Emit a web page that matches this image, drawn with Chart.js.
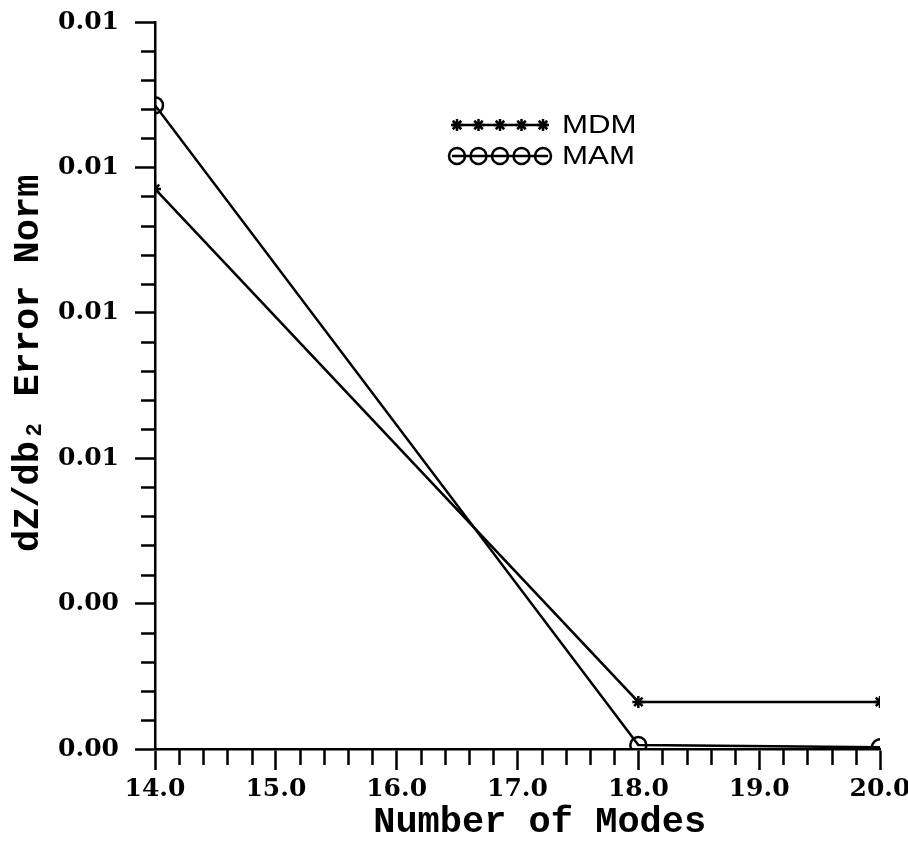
<!DOCTYPE html>
<html>
<head>
<meta charset="utf-8">
<script src="https://cdn.jsdelivr.net/npm/chart.js@4.4.0/dist/chart.umd.min.js"></script>
<style>
  html, body { margin: 0; padding: 0; background: #fff; }
  #wrap { width: 908px; height: 845px; position: relative; }
</style>
</head>
<body>
<div id="wrap"><canvas id="chart"></canvas></div>
<script>
// values
const modes = [14, 18, 20];
const mdmValues = [0.00963, 0.00081, 0.00081];
const mamValues = [0.01107, 0.00007, 0.00003];
const seriesNames = ['MDM', 'MAM'];

const yMajorStep = 0.0025;
const yMinorStep = 0.0005;
const xMajorStep = 1;
const xMinorStep = 0.2;

const tickFont = { family: '"DejaVu Serif"', weight: 'bold', size: 25 };
const titleFont = { family: '"Liberation Mono"', weight: 'bold', size: 37 };

// minor ticks are not something chart.js does, so draw them off the scales
const minorTicks = {
    id: 'minorTicks',
    afterDraw(chart) {
        const ctx = chart.ctx;
        const xs = chart.scales.x;
        const ys = chart.scales.y;
        ctx.save();
        ctx.strokeStyle = '#000';
        ctx.lineWidth = 2.5;
        ctx.beginPath();
        for (let v = ys.min; v <= ys.max + 1e-9; v += yMinorStep) {
            const r = v / yMajorStep;
            if (Math.abs(r - Math.round(r)) < 1e-6) continue;
            const py = Math.round(ys.getPixelForValue(v)) + 0.5;
            ctx.moveTo(ys.right - 14, py);
            ctx.lineTo(ys.right, py);
        }
        for (let v = xs.min; v <= xs.max + 1e-9; v += xMinorStep) {
            const r = v / xMajorStep;
            if (Math.abs(r - Math.round(r)) < 1e-6) continue;
            const px = Math.round(xs.getPixelForValue(v)) + 0.5;
            ctx.moveTo(px, xs.top);
            ctx.lineTo(px, xs.top + 16);
        }
        ctx.stroke();
        ctx.restore();
    }
};

// legend with a short line carrying five markers, like the original plot
const markerLegend = {
    id: 'markerLegend',
    afterDraw(chart, args, opts) {
        const ctx = chart.ctx;
        ctx.save();
        chart.data.datasets.forEach((ds, i) => {
            const y = opts.top + i * opts.rowGap;
            ctx.strokeStyle = '#000';
            ctx.lineWidth = 2.5;
            ctx.beginPath();
            ctx.moveTo(opts.left, y);
            ctx.lineTo(opts.left + opts.lineLength, y);
            ctx.stroke();
            ctx.fillStyle = 'rgba(0,0,0,0)';
            for (let k = 0; k < 5; k++) {
                const px = opts.left + 5 + k * (opts.lineLength - 10) / 4;
                Chart.helpers.drawPoint(ctx, {
                    pointStyle: ds.pointStyle,
                    radius: ds.pointRadius,
                    borderWidth: ds.pointBorderWidth
                }, px, y);
            }
            ctx.save();
            ctx.translate(opts.left + opts.lineLength + opts.textGap, y + 1);
            ctx.scale(opts.stretch, 1);
            ctx.fillStyle = '#000';
            ctx.font = opts.font;
            ctx.textBaseline = 'middle';
            ctx.fillText(ds.label, 0, 0);
            ctx.restore();
        });
        ctx.restore();
    }
};

const ctx = document.getElementById('chart');

new Chart(ctx, {
    type: 'line',
    data: {
        datasets: [
            {
                label: seriesNames[0],
                data: modes.map((m, i) => ({ x: m, y: mdmValues[i] })),
                borderColor: '#000',
                backgroundColor: '#000',
                borderWidth: 2.5,
                pointStyle: 'star',
                pointRadius: 6,
                pointBorderWidth: 2.5,
                pointBorderColor: '#000',
                fill: false,
            },
            {
                label: seriesNames[1],
                data: modes.map((m, i) => ({ x: m, y: mamValues[i] })),
                borderColor: '#000',
                backgroundColor: 'rgba(0,0,0,0)',
                borderWidth: 2.5,
                pointStyle: 'circle',
                pointRadius: 8,
                pointBorderWidth: 2.5,
                pointBorderColor: '#000',
                fill: false,
            }
        ]
    },
    options: {
        responsive: true,
        maintainAspectRatio: false,
        animation: false,
        layout: {
            padding: { top: 22, right: 0, left: 0, bottom: 0 }
        },
        scales: {
            x: {
                type: 'linear',
                min: 14,
                max: 20,
                border: { color: '#000', width: 2.5 },
                grid: {
                    drawOnChartArea: false,
                    drawTicks: true,
                    tickLength: 21,
                    tickWidth: 2.5,
                    tickColor: '#000'
                },
                ticks: {
                    stepSize: xMajorStep,
                    color: '#000',
                    font: tickFont,
                    padding: 4,
                    maxRotation: 0,
                    callback: v => Number(v).toFixed(1)
                },
                title: {
                    display: true,
                    text: '  Number of Modes',
                    color: '#000',
                    font: titleFont,
                    padding: { top: 0, bottom: 0 }
                },
                afterFit: scale => {
                    scale.height = 96;
                    scale.paddingLeft = 0;
                    scale.paddingRight = 28;
                }
            },
            y: {
                min: 0,
                max: 0.0125,
                border: { color: '#000', width: 2.5 },
                grid: {
                    drawOnChartArea: false,
                    drawTicks: true,
                    tickLength: 20,
                    tickWidth: 2.5,
                    tickColor: '#000'
                },
                ticks: {
                    stepSize: yMajorStep,
                    color: '#000',
                    font: tickFont,
                    padding: 16,
                    callback: v => Number(v).toFixed(2)
                },
                title: {
                    display: true,
                    text: '  dZ/db\u2082 Error Norm',
                    color: '#000',
                    font: titleFont,
                    padding: { top: 6, bottom: 0 }
                },
                afterFit: scale => {
                    scale.width = 155;
                    scale.paddingTop = 0;
                    scale.paddingBottom = 0;
                }
            }
        },
        plugins: {
            legend: { display: false },
            tooltip: { enabled: false },
            markerLegend: {
                left: 452,
                top: 125,
                rowGap: 31,
                lineLength: 96,
                textGap: 14,
                stretch: 1.25,
                font: '25px "Liberation Sans"'
            }
        }
    },
    plugins: [minorTicks, markerLegend]
});
</script>
</body>
</html>
